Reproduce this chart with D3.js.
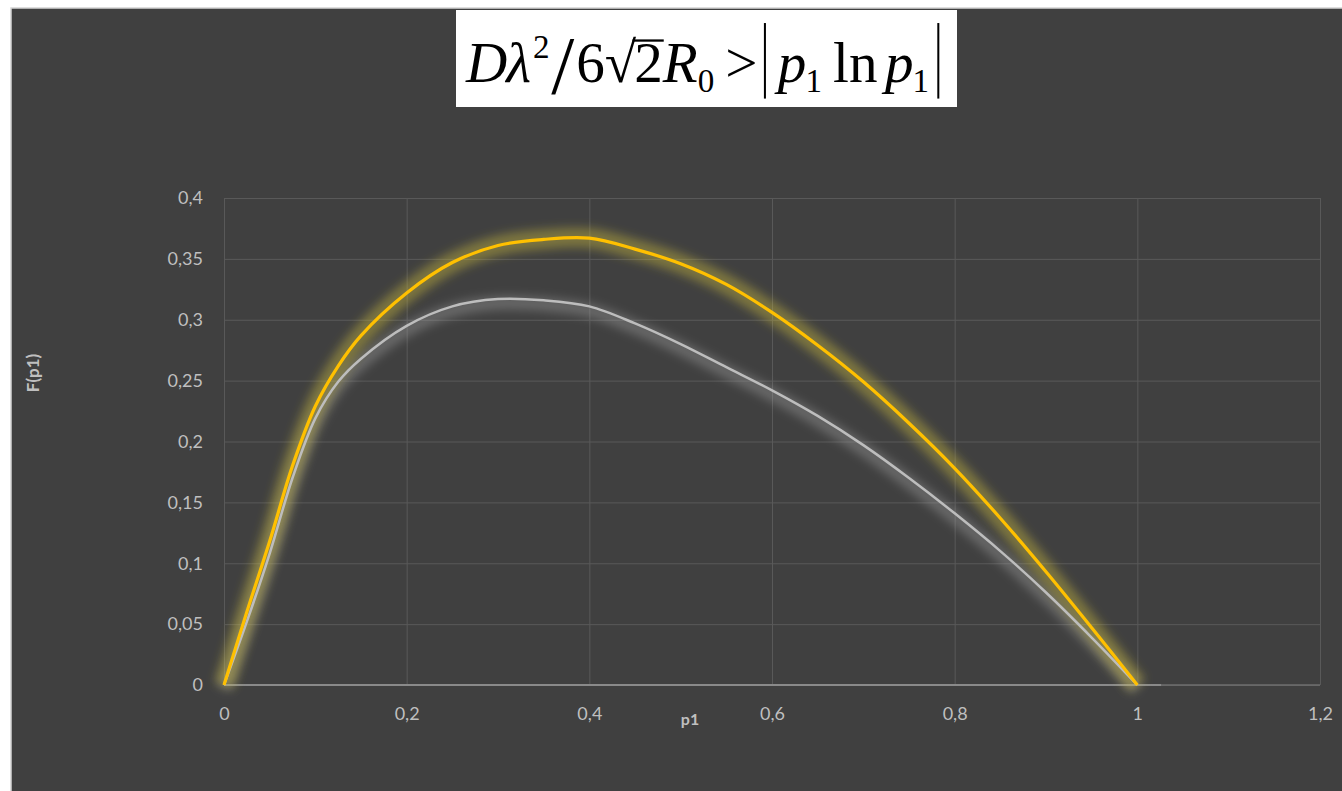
<!DOCTYPE html>
<meta charset="utf-8">
<title>F(p1)</title>
<style>
  body {
    margin: 0;
    background: #fff;
  }

  .grid line {
    stroke: #595959;
    stroke-width: 1px;
  }

  .grid path {
    display: none;
  }

  .labels path,
  .labels line {
    display: none;
  }

  .labels text {
    fill: #bfbfbf;
    font: 18px Lato, "Open Sans", sans-serif;
  }

  .axis-title {
    fill: #bfbfbf;
    font: bold 17px Lato, "Open Sans", sans-serif;
  }

  .formula text {
    fill: #000;
    font-family: "Liberation Serif", "Times New Roman", serif;
  }
</style>
<svg width="1342" height="791"></svg>
<script src="https://cdn.jsdelivr.net/npm/d3@7"></script>
<script>
  // tick values and labels (comma decimals as in the original)
  var xTicks = [0, 0.2, 0.4, 0.6, 0.8, 1, 1.2];
  var xTickLabels = ["0", "0,2", "0,4", "0,6", "0,8", "1", "1,2"];
  var yTicks = [0, 0.05, 0.1, 0.15, 0.2, 0.25, 0.3, 0.35, 0.4];
  var yTickLabels = ["0", "0,05", "0,1", "0,15", "0,2", "0,25", "0,3", "0,35", "0,4"];

  // p1 values of the points
  var p1 = [0, 0.025, 0.05, 0.075, 0.1, 0.125, 0.15, 0.2, 0.25, 0.3, 0.35, 0.4, 0.45, 0.5,
    0.55, 0.6, 0.65, 0.7, 0.75, 0.8, 0.85, 0.9, 0.95, 1];

  // yellow curve
  var yellowF = [0, 0.06, 0.118, 0.18, 0.229, 0.262, 0.287, 0.322, 0.347, 0.361, 0.366, 0.367, 0.358, 0.346,
    0.329, 0.306, 0.279, 0.249, 0.215, 0.178, 0.137, 0.093, 0.047, 0];

  // grey curve
  var greyF = [0, 0.052, 0.108, 0.17, 0.219, 0.249, 0.268, 0.295, 0.311, 0.317, 0.316, 0.311, 0.297, 0.28,
    0.261, 0.242, 0.221, 0.197, 0.17, 0.141, 0.11, 0.076, 0.039, 0];

  // short light piece of the zero line
  var zeroP = [0, 1.026];
  var zeroF = [0, 0];

  var svg = d3.select("svg"),
    width = +svg.attr("width"),
    height = +svg.attr("height");

  var plotLeft = 224,
    plotRight = 1320,
    plotTop = 198,
    plotBottom = 685;

  var x = d3.scaleLinear().domain([0, 1.2]).range([plotLeft, plotRight]);
  var y = d3.scaleLinear().domain([0, 0.4]).range([plotBottom, plotTop]);

  var defs = svg.append("defs");
  defs.append("filter")
    .attr("id", "blur")
    .attr("x", "-20%").attr("y", "-20%")
    .attr("width", "140%").attr("height", "140%")
    .append("feGaussianBlur")
    .attr("stdDeviation", 5);

  // chart panel
  svg.append("rect")
    .attr("x", 11)
    .attr("y", 8)
    .attr("width", width)
    .attr("height", height)
    .attr("fill", "#404040")
    .attr("stroke", "#d4d4d4")
    .attr("stroke-width", 1.5);

  // grid
  svg.append("g")
    .attr("class", "grid")
    .attr("transform", "translate(" + plotLeft + ",0)")
    .call(d3.axisLeft(y).tickValues(yTicks).tickSize(-(plotRight - plotLeft)).tickFormat(""));

  svg.append("g")
    .attr("class", "grid")
    .attr("transform", "translate(0," + plotBottom + ")")
    .call(d3.axisBottom(x).tickValues(xTicks).tickSize(-(plotBottom - plotTop)).tickFormat(""));

  svg.append("line")
    .attr("x1", x(0)).attr("x2", x(1.2))
    .attr("y1", y(0)).attr("y2", y(0))
    .attr("stroke", "#6e6e6e")
    .attr("stroke-width", 1.5);

  // tick labels
  svg.append("g")
    .attr("class", "labels")
    .attr("transform", "translate(" + plotLeft + ",0)")
    .call(d3.axisLeft(y).tickValues(yTicks).tickSize(0).tickPadding(21)
      .tickFormat(function(d, i) {
        return yTickLabels[i];
      }));

  svg.append("g")
    .attr("class", "labels")
    .attr("transform", "translate(0," + plotBottom + ")")
    .call(d3.axisBottom(x).tickValues(xTicks).tickSize(0).tickPadding(22)
      .tickFormat(function(d, i) {
        return xTickLabels[i];
      }));

  svg.append("text")
    .attr("class", "axis-title")
    .attr("x", 690)
    .attr("y", 725)
    .attr("text-anchor", "middle")
    .style("font-size", "16px")
    .text("p1");

  svg.append("text")
    .attr("class", "axis-title")
    .attr("transform", "translate(39,373) rotate(-90)")
    .attr("text-anchor", "middle")
    .text("F(p1)");

  // series
  var line = d3.line()
    .x(function(d) {
      return x(d[0]);
    })
    .y(function(d) {
      return y(d[1]);
    })
    .curve(d3.curveCatmullRom.alpha(0.5));

  var yellow = d3.zip(p1, yellowF),
    grey = d3.zip(p1, greyF),
    zero = d3.zip(zeroP, zeroF);

  svg.append("path")
    .attr("d", line(zero))
    .attr("fill", "none")
    .attr("stroke", "#8a8a8a")
    .attr("stroke-width", 2);

  svg.append("path")
    .attr("d", line(grey))
    .attr("transform", "translate(0,4)")
    .attr("fill", "none")
    .attr("stroke", "#b0b0b0")
    .attr("stroke-opacity", 0.35)
    .attr("stroke-width", 14)
    .attr("filter", "url(#blur)");

  svg.append("path")
    .attr("d", line(yellow))
    .attr("fill", "none")
    .attr("stroke", "#cdbd3c")
    .attr("stroke-opacity", 0.42)
    .attr("stroke-width", 20)
    .attr("filter", "url(#blur)");

  svg.append("path")
    .attr("d", line(grey))
    .attr("fill", "none")
    .attr("stroke", "#bdbdbd")
    .attr("stroke-width", 2.5);

  svg.append("path")
    .attr("d", line(yellow))
    .attr("fill", "none")
    .attr("stroke", "#ffc000")
    .attr("stroke-width", 3.2)
    .attr("stroke-linejoin", "round");

  // formula box
  svg.append("rect")
    .attr("x", 456)
    .attr("y", 10)
    .attr("width", 501)
    .attr("height", 97)
    .attr("fill", "#fff");

  var fs = 62,
    base = 82,
    startX = 466;

  var pieces = [
    { t: "D", it: true },
    { t: "λ", it: true, gap: -1 },
    { t: "2", sup: true, gap: 2 },
    { t: "/", slash: true, gap: 2 },
    { t: "6", gap: 2 },
    { t: "√", gap: 0 },
    { t: "2", over: true, gap: -2 },
    { t: "R", it: true },
    { t: "0", sub: true, gap: 0 },
    { t: ">", gap: 12 },
    { t: "|", bar: true, gap: 8 },
    { t: "p", it: true, gap: 10 },
    { t: "1", sub: true, gap: -1 },
    { t: "ln", gap: 12 },
    { t: "p", it: true, gap: 8 },
    { t: "1", sub: true, gap: -1 },
    { t: "|", bar: true, gap: 10 }
  ];

  var formula = svg.append("g").attr("class", "formula");
  var cx = startX, overStart = 0, overEnd = 0;

  pieces.forEach(function(p) {
    cx += p.gap || 0;
    if (p.bar) {
      formula.append("line")
        .attr("x1", cx).attr("x2", cx)
        .attr("y1", 18).attr("y2", 100)
        .attr("stroke", "#000")
        .attr("stroke-width", 2.2);
      cx += 4;
      return;
    }
    var size = p.sup || p.sub ? fs * 0.58 : p.slash ? fs * 1.45 : fs;
    var yy = p.sup ? base - 26 : p.sub ? base + 11 : p.slash ? base + 12 : base;
    var t = formula.append("text")
      .attr("x", cx)
      .attr("y", yy)
      .style("font-size", size + "px")
      .style("font-style", p.it ? "italic" : "normal")
      .text(p.t);
    var w = t.node().getComputedTextLength();
    if (p.over) {
      overStart = cx;
      overEnd = cx + w;
    }
    cx += w;
  });

  // bar of the root
  formula.append("line")
    .attr("x1", overStart - 2).attr("x2", overEnd + 1)
    .attr("y1", 37).attr("y2", 37)
    .attr("stroke", "#000")
    .attr("stroke-width", 2.5);

  // fit the formula into the box width
  var s = (942 - startX) / (cx - startX);
  formula.attr("transform", "translate(" + startX + "," + base + ") scale(" + s + ") translate(" + -startX + "," + -base + ")");
</script>
